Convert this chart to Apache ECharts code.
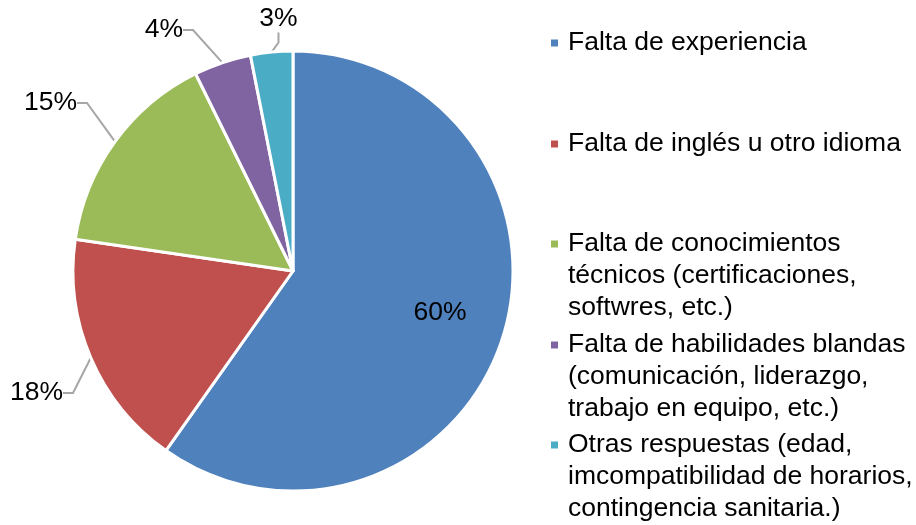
<!DOCTYPE html>
<html><head><meta charset="utf-8">
<script src="https://cdn.jsdelivr.net/npm/echarts@6/dist/echarts.min.js"></script>
<style>html,body{margin:0;padding:0;background:#fff}#c{width:916px;height:525px}</style>
</head><body><div id="c"></div>
<script>
const categories = [
  'Falta de experiencia',
  'Falta de inglés u otro idioma',
  'Falta de conocimientos técnicos (certificaciones, softwres, etc.)',
  'Falta de habilidades blandas (comunicación, liderazgo, trabajo en equipo, etc.)',
  'Otras respuestas (edad, imcompatibilidad de horarios, contingencia sanitaria.)'
];
const legendLabels = [
  'Falta de experiencia',
  'Falta de inglés u otro idioma',
  'Falta de conocimientos\ntécnicos (certificaciones,\nsoftwres, etc.)',
  'Falta de habilidades blandas\n(comunicación, liderazgo,\ntrabajo en equipo, etc.)',
  'Otras respuestas (edad,\nimcompatibilidad de horarios,\ncontingencia sanitaria.)'
];
const values = [59.8, 17.5, 15.4, 4.2, 3.1];

const colors = ['#4F81BD', '#C0504D', '#9BBB59', '#8064A2', '#4BACC6'];
const FONT = 'Arial, "Liberation Sans", sans-serif';
const FS = 26.5;
const LH = 31.7;
// label placement (x, y, align) in px
const labelPos = [[440, 313, 'center'], [63, 393, 'right'], [77, 103, 'right'], [183, 30, 'right'], [278.5, 19, 'center']];
// vertical centre of the first line of each legend entry
const legendCenters = [43, 144, 244, 345, 445];

const chart = echarts.init(document.getElementById('c'), null, {renderer: 'canvas'});

const legends = categories.map((name, i) => {
  const n = legendLabels[i].split('\n').length;
  const pad = n - 1;
  return {
    data: [name],
    orient: 'vertical',
    left: 549,
    top: legendCenters[i] - (pad + 0.5) * LH,
    padding: 0,
    itemWidth: 9,
    itemHeight: 9,
    icon: 'rect',
    selectedMode: false,
    formatter: () => '\n'.repeat(pad) + legendLabels[i],
    textStyle: {fontFamily: FONT, fontSize: FS, lineHeight: LH, color: '#000', padding: [0, 0, 0, 4]}
  };
});

chart.setOption({
  animation: false,
  color: colors,
  legend: legends,
  series: [{
    type: 'pie',
    center: [293, 271],
    radius: 220,
    startAngle: 90,
    clockwise: true,
    avoidLabelOverlap: false,
    silent: true,
    itemStyle: {borderColor: '#fff', borderWidth: 3},
    label: {
      show: true,
      position: 'outside',
      formatter: p => Math.round(p.value) + '%',
      fontFamily: FONT, fontSize: FS, color: '#000'
    },
    labelLine: {show: true, length: 10, length2: 10, lineStyle: {color: '#A6A6A6', width: 2}},
    labelLayout: p => {
      const lp = labelPos[p.dataIndex];
      return {x: lp[0], y: lp[1], align: lp[2], verticalAlign: 'middle'};
    },
    data: categories.map((name, i) => {
      const d = {name: name, value: values[i]};
      if (i === 0) {
        d.label = {position: 'inside'};
        d.labelLine = {show: false};
      }
      return d;
    })
  }]
});
</script>
</body></html>
